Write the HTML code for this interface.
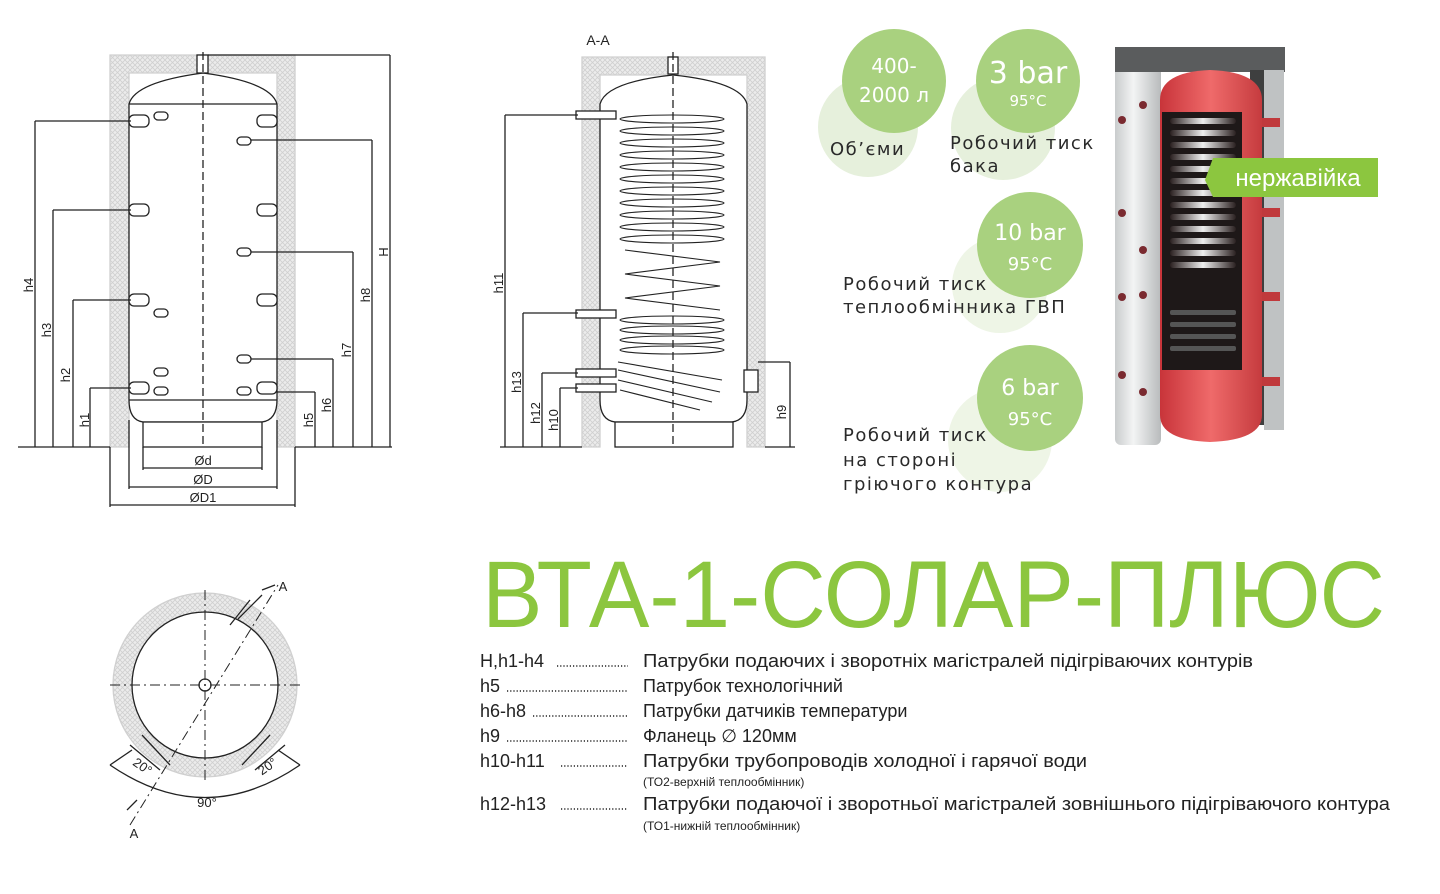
<!DOCTYPE html>
<html><head><meta charset="utf-8"><style>html,body{margin:0;padding:0;background:#fff}svg{display:block}</style></head>
<body>
<svg width="1440" height="894" viewBox="0 0 1440 894" xmlns="http://www.w3.org/2000/svg" font-family="Liberation Sans, DejaVu Sans, sans-serif">
<defs>
<pattern id="hx" width="5" height="5" patternUnits="userSpaceOnUse">
<rect width="5" height="5" fill="#ececec"/>
<path d="M0 0L5 5M5 0L0 5" stroke="#cfcfcf" stroke-width="0.8"/>
</pattern>
<linearGradient id="shell" x1="0" x2="1"><stop offset="0" stop-color="#c9cccd"/><stop offset="0.4" stop-color="#f3f4f4"/><stop offset="1" stop-color="#b8bbbc"/></linearGradient>
<linearGradient id="red" x1="0" x2="1"><stop offset="0" stop-color="#c8343a"/><stop offset="0.5" stop-color="#ef6a6a"/><stop offset="1" stop-color="#c53b3e"/></linearGradient>
<linearGradient id="coil" x1="0" x2="1"><stop offset="0" stop-color="#2a2020"/><stop offset="0.5" stop-color="#eeeeee"/><stop offset="1" stop-color="#2a2020"/></linearGradient>
</defs>
<g stroke="#222" stroke-width="1.3" fill="none">
<path d="M110 55H295V447H277V73H129V447H110Z" fill="url(#hx)" stroke="#d0d0d0"/>
<path d="M129 104Q135 82 203 73Q271 82 277 104V400Q277 420 262 422H143Q129 420 129 400Z" fill="#fff"/>
<line x1="129" y1="104" x2="277" y2="104"/><line x1="129" y1="400" x2="277" y2="400"/>
<rect x="143" y="422" width="119" height="25" fill="#fff"/>
<rect x="197" y="55" width="11" height="18" fill="#fff"/>
<line x1="203" y1="52" x2="203" y2="447" stroke-dasharray="8 4"/>
<g fill="#fff">
<rect x="129" y="115" width="20" height="12" rx="5"/><rect x="129" y="204" width="20" height="12" rx="5"/><rect x="129" y="294" width="20" height="12" rx="5"/><rect x="129" y="382" width="20" height="12" rx="5"/>
<rect x="257" y="115" width="20" height="12" rx="5"/><rect x="257" y="204" width="20" height="12" rx="5"/><rect x="257" y="294" width="20" height="12" rx="5"/><rect x="257" y="382" width="20" height="12" rx="5"/>
<rect x="154" y="112" width="14" height="8" rx="4"/><rect x="154" y="309" width="14" height="8" rx="4"/><rect x="154" y="368" width="14" height="8" rx="4"/><rect x="154" y="387" width="14" height="8" rx="4"/>
<rect x="237" y="137" width="14" height="8" rx="4"/><rect x="237" y="248" width="14" height="8" rx="4"/><rect x="237" y="355" width="14" height="8" rx="4"/><rect x="237" y="387" width="14" height="8" rx="4"/>
</g>
<path d="M35 121H131M53 210H131M73 300H131M90 388H131"/>
<path d="M35 121V447M53 210V447M73 300V447M90 388V447M18 447H110"/>
<path d="M208 55H390M251 140H372M251 252H353M251 359H333M277 392H315M295 447H392"/>
<path d="M390 55V447M372 140V447M353 252V447M333 359V447M315 392V447"/>
<path d="M143 447V470M262 447V470M143 468H262M129 420V489M277 420V489M129 487H277M110 447V507M295 447V507M110 505H295"/>
<path d="M582 57H765V447H747V75H600V447H582Z" fill="url(#hx)" stroke="#d0d0d0"/>
<path d="M600 104Q606 82 673 75Q741 82 747 104V400Q747 420 732 422H615Q600 420 600 400Z" fill="#fff"/>
<rect x="615" y="422" width="118" height="25" fill="#fff"/>
<rect x="668" y="57" width="10" height="17" fill="#fff"/>
<line x1="673" y1="52" x2="673" y2="447" stroke-dasharray="8 4"/>
<g stroke-width="1.1">
<ellipse cx="672" cy="119" rx="52" ry="4"/><ellipse cx="672" cy="131" rx="52" ry="4"/><ellipse cx="672" cy="143" rx="52" ry="4"/><ellipse cx="672" cy="155" rx="52" ry="4"/><ellipse cx="672" cy="167" rx="52" ry="4"/><ellipse cx="672" cy="179" rx="52" ry="4"/><ellipse cx="672" cy="191" rx="52" ry="4"/><ellipse cx="672" cy="203" rx="52" ry="4"/><ellipse cx="672" cy="215" rx="52" ry="4"/><ellipse cx="672" cy="227" rx="52" ry="4"/><ellipse cx="672" cy="239" rx="52" ry="4"/>
<path d="M625 250L720 262L625 274L720 286L625 298L720 310"/>
<ellipse cx="672" cy="320" rx="52" ry="4"/><ellipse cx="672" cy="330" rx="52" ry="4"/><ellipse cx="672" cy="340" rx="52" ry="4"/><ellipse cx="672" cy="350" rx="52" ry="4"/>
<path d="M618 362L722 380M618 370L720 392M618 380L712 402M620 390L700 410"/>
</g>
<g fill="#fff"><rect x="576" y="111" width="40" height="8"/><rect x="576" y="310" width="40" height="8"/><rect x="576" y="369" width="40" height="8"/><rect x="576" y="384" width="40" height="8"/><rect x="744" y="370" width="14" height="22"/></g>
<path d="M505 115H578M523 313H578M542 373H578M560 388H578M505 115V447M523 313V447M542 373V447M560 388V447M500 447H582"/>
<path d="M758 362H790M790 362V447M765 447H795"/>
<circle cx="205" cy="685" r="92" fill="url(#hx)" stroke="#d0d0d0"/>
<circle cx="205" cy="685" r="73" fill="#fff"/>
<circle cx="205" cy="685" r="6" fill="#fff"/>
<path d="M110 685H300M205 590V780" stroke-dasharray="10 4 2 4" stroke-width="1"/>
<path d="M130 825L278 585" stroke-dasharray="10 4 2 4" stroke-width="1"/>
<path d="M262 595L238 619M250 600L230 625" />
<path d="M130 745L160 770M142 735L170 765M285 745L255 770M270 735L242 765"/>
<path d="M110 765Q205 830 300 765"/>
<path d="M110 765L132 750M300 765L278 750"/>
<path d="M127 810L137 800M262 590L275 585"/>
</g>
<g font-size="13" fill="#222" text-anchor="middle">
<text x="203" y="465">Ød</text><text x="203" y="484">ØD</text><text x="203" y="502">ØD1</text>
<text x="598" y="45" font-size="14">A-A</text>
<text x="283" y="591">A</text><text x="134" y="838">A</text>
<text x="207" y="807">90°</text>
<text x="140" y="770" transform="rotate(35 140 770)">20°</text>
<text x="270" y="770" transform="rotate(-35 270 770)">20°</text>
<g font-size="13">
<text transform="translate(33 285) rotate(-90)">h4</text><text transform="translate(51 330) rotate(-90)">h3</text><text transform="translate(70 375) rotate(-90)">h2</text><text transform="translate(89 420) rotate(-90)">h1</text>
<text transform="translate(388 252) rotate(-90)">H</text><text transform="translate(370 295) rotate(-90)">h8</text><text transform="translate(351 350) rotate(-90)">h7</text><text transform="translate(331 405) rotate(-90)">h6</text><text transform="translate(313 420) rotate(-90)">h5</text>
<text transform="translate(503 283) rotate(-90)">h11</text><text transform="translate(521 382) rotate(-90)">h13</text><text transform="translate(540 413) rotate(-90)">h12</text><text transform="translate(558 420) rotate(-90)">h10</text><text transform="translate(786 412) rotate(-90)">h9</text>
</g>
</g>
<circle cx="868" cy="127" r="50" fill="#e6f0dc"/><circle cx="1003" cy="128" r="52" fill="#e6f0dc"/>
<circle cx="1000" cy="285" r="48" fill="#eef5e6"/><circle cx="1000" cy="440" r="52" fill="#eef5e6"/>
<circle cx="894" cy="81" r="52" fill="#a9d17f"/><circle cx="1028" cy="81" r="52" fill="#a9d17f"/>
<circle cx="1030" cy="245" r="53" fill="#a9d17f"/><circle cx="1030" cy="398" r="53" fill="#a9d17f"/>
<g fill="#fff" text-anchor="middle" font-family="DejaVu Sans, sans-serif">
<text x="894" y="73" font-size="20">400-</text><text x="894" y="102" font-size="20">2000 л</text>
<text x="1028" y="83" font-size="30">3 bar</text><text x="1028" y="106" font-size="15">95°C</text>
<text x="1030" y="240" font-size="22">10 bar</text><text x="1030" y="270" font-size="18">95°C</text>
<text x="1030" y="395" font-size="22">6 bar</text><text x="1030" y="425" font-size="18">95°C</text>
</g>
<g fill="#2a2a2a" font-size="18" font-family="DejaVu Sans, sans-serif" letter-spacing="1.5">
<text x="830" y="155">Об’єми</text>
<text x="950" y="149">Робочий тиск</text><text x="950" y="172">бака</text>
<text x="843" y="290">Робочий тиск</text><text x="843" y="313">теплообмінника ГВП</text>
<text x="843" y="441">Робочий тиск</text><text x="843" y="466">на стороні</text><text x="843" y="490">гріючого контура</text>
</g>
<rect x="1115" y="60" width="46" height="385" rx="6" fill="url(#shell)"/>
<path d="M1115 47H1285V72H1115Z" fill="#5a5c5d"/>
<rect x="1264" y="70" width="20" height="360" fill="#bfc2c3"/>
<rect x="1250" y="70" width="14" height="355" fill="#3e3f3f"/>
<path d="M1160 100Q1160 72 1210 70Q1262 72 1262 100V415Q1262 440 1210 442Q1160 440 1160 415Z" fill="url(#red)"/>
<rect x="1162" y="112" width="80" height="258" fill="#1e1818"/>
<g fill="url(#coil)">
<rect x="1170" y="118" width="66" height="6" rx="3"/><rect x="1170" y="130" width="66" height="6" rx="3"/><rect x="1170" y="142" width="66" height="6" rx="3"/><rect x="1170" y="154" width="66" height="6" rx="3"/><rect x="1170" y="166" width="66" height="6" rx="3"/><rect x="1170" y="178" width="66" height="6" rx="3"/><rect x="1170" y="190" width="66" height="6" rx="3"/><rect x="1170" y="202" width="66" height="6" rx="3"/><rect x="1170" y="214" width="66" height="6" rx="3"/><rect x="1170" y="226" width="66" height="6" rx="3"/><rect x="1170" y="238" width="66" height="6" rx="3"/><rect x="1170" y="250" width="66" height="6" rx="3"/><rect x="1170" y="262" width="66" height="6" rx="3"/>
</g>
<g fill="#555"><rect x="1170" y="310" width="66" height="5" rx="2"/><rect x="1170" y="322" width="66" height="5" rx="2"/><rect x="1170" y="334" width="66" height="5" rx="2"/><rect x="1170" y="346" width="66" height="5" rx="2"/></g>
<g fill="#c0393c"><rect x="1262" y="118" width="18" height="9"/><rect x="1262" y="208" width="18" height="9"/><rect x="1262" y="292" width="18" height="9"/><rect x="1262" y="377" width="18" height="9"/></g>
<g fill="#7a2a30"><circle cx="1143" cy="105" r="4"/><circle cx="1122" cy="120" r="4"/><circle cx="1122" cy="213" r="4"/><circle cx="1143" cy="250" r="4"/><circle cx="1122" cy="297" r="4"/><circle cx="1143" cy="295" r="4"/><circle cx="1122" cy="375" r="4"/><circle cx="1143" cy="392" r="4"/></g>
<path d="M1213 158H1378V197H1213L1205 180Z" fill="#8cc63f"/>
<text x="1298" y="186" fill="#fff" font-size="24" text-anchor="middle">нержавійка</text>
<text x="482" y="627" fill="#8cc63f" font-size="95" textLength="903" lengthAdjust="spacingAndGlyphs">ВТА-1-СОЛАР-ПЛЮС</text>
<g stroke="#222" stroke-width="1.4" stroke-dasharray="1.2 2" fill="none">
<path d="M557 666H628M507 691H628M533 716H628M507 741H628M561 766H628M561 809H628"/>
</g>
<g fill="#222" font-size="18">
<text x="480" y="667">H,h1-h4</text><text x="643" y="667" textLength="610" lengthAdjust="spacingAndGlyphs">Патрубки подаючих і зворотніх магістралей підігріваючих контурів</text>
<text x="480" y="692">h5</text><text x="643" y="692">Патрубок технологічний</text>
<text x="480" y="717">h6-h8</text><text x="643" y="717">Патрубки датчиків температури</text>
<text x="480" y="742">h9</text><text x="643" y="742">Фланець ∅ 120мм</text>
<text x="480" y="767">h10-h11</text><text x="643" y="767" textLength="444" lengthAdjust="spacingAndGlyphs">Патрубки трубопроводів холодної і гарячої води</text>
<text x="643" y="786" font-size="12">(ТО2-верхній теплообмінник)</text>
<text x="480" y="810">h12-h13</text><text x="643" y="810" textLength="747" lengthAdjust="spacingAndGlyphs">Патрубки подаючої  і зворотньої магістралей зовнішнього підігріваючого контура</text>
<text x="643" y="830" font-size="12">(ТО1-нижній теплообмінник)</text>
</g>
</svg>
</body></html>
